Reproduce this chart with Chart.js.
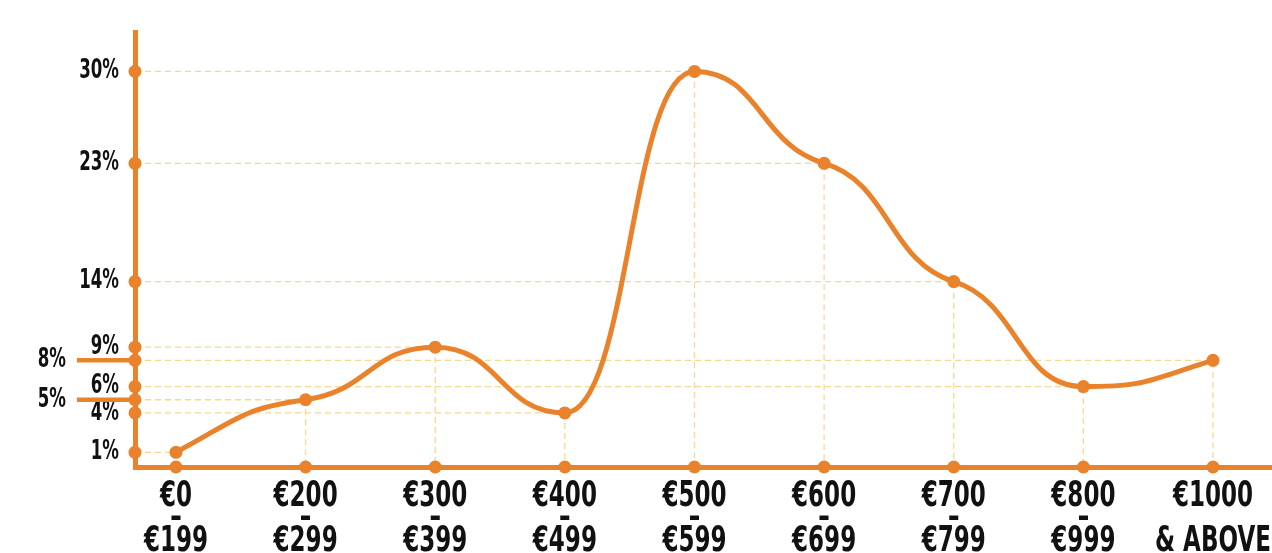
<!DOCTYPE html>
<html>
<head>
<meta charset="utf-8">
<script src="https://cdn.jsdelivr.net/npm/chart.js@4.4.0/dist/chart.umd.min.js"></script>
<style>
    html, body { margin: 0; padding: 0; background: #ffffff; }
</style>
</head>
<body>
<canvas id="graficoPrecios" width="1272" height="553"></canvas>
<script>
// Datos del gráfico
const categorias = [
    ['€0', '–', '€199'],
    ['€200', '–', '€299'],
    ['€300', '–', '€399'],
    ['€400', '–', '€499'],
    ['€500', '–', '€599'],
    ['€600', '–', '€699'],
    ['€700', '–', '€799'],
    ['€800', '–', '€999'],
    ['€1000', '', '& ABOVE']
];
const porcentajes = [1, 5, 9, 4, 30, 23, 14, 6, 8];
const ticksEjeY = [1, 4, 6, 9, 14, 23, 30];
const ticksEjeYExterior = [5, 8];

// Rango de los ejes
const xMin = -0.316;
const xMax = 8.455;
const xIzquierda = -0.764;
const yMin = -0.12;
const yMax = 33;

const naranja = '#e9822a';
const guia = '#f7d890';
const fuente = '"DejaVu Sans", "Liberation Sans", sans-serif';

// Líneas guía punteadas desde cada punto a los ejes
const lineasGuia = [];
porcentajes.forEach((v, i) => {
    lineasGuia.push({ x: xMin, y: v }, { x: i, y: v }, { x: i, y: yMin }, { x: i, y: null });
});

// Marcas de 5% y 8% a la izquierda del eje
const marcasExteriores = [];
const radiosExteriores = [];
ticksEjeYExterior.forEach(v => {
    marcasExteriores.push({ x: xIzquierda, y: v }, { x: xMin, y: v }, { x: xMin, y: null });
    radiosExteriores.push(6.5, 0, 0);
});

// Puntos sobre los ejes
const puntosEjes = [];
ticksEjeY.concat(ticksEjeYExterior).forEach(v => puntosEjes.push({ x: xMin, y: v }));
categorias.forEach((_, i) => puntosEjes.push({ x: i, y: yMin }));

// Texto condensado (la fuente original es muy estrecha)
const textoCondensado = {
    id: 'textoCondensado',
    beforeDraw(chart) {
        const c = chart.ctx;
        if (c._condensado) return;
        const fillOriginal = c.fillText.bind(c);
        c.fillText = function (texto, x, y) {
            c.save();
            c.translate(x, y);
            c.scale(0.64, 1);
            fillOriginal(texto, 0, 0);
            c.restore();
        };
        c._condensado = true;
    }
};

// Curva suave: tangentes planas en los extremos locales, suaves en el resto
const curvaSuave = {
    id: 'curvaSuave',
    beforeDatasetDraw(chart, args) {
        if (args.index !== 0) return;
        const meta = args.meta;
        if (meta.dataset.updateControlPoints) {
            meta.dataset.updateControlPoints(chart.chartArea, 'x');
        }
        const pts = meta.data;
        const n = pts.length;
        const deltas = [];
        for (let i = 0; i < n - 1; i++) {
            deltas.push((pts[i + 1].y - pts[i].y) / (pts[i + 1].x - pts[i].x));
        }
        const m = new Array(n).fill(0);
        for (let i = 1; i < n - 1; i++) {
            if (deltas[i - 1] * deltas[i] > 0) {
                m[i] = 0.35 * (deltas[i - 1] + deltas[i]) / 2;
            }
        }
        m[0] = (3 * deltas[0] - m[1]) / 2;
        m[n - 1] = (3 * deltas[n - 2] - m[n - 2]) / 2;

        pts.forEach((p, i) => {
            const prev = pts[i - 1];
            const next = pts[i + 1];
            const dPrev = prev ? (p.x - prev.x) / 2 : 0;
            const dNext = next ? (next.x - p.x) / 2 : 0;
            p.cp1x = p.x - dPrev;
            p.cp1y = p.y - m[i] * dPrev;
            p.cp2x = p.x + dNext;
            p.cp2y = p.y + m[i] * dNext;
        });
    }
};

const sinPadding = s => {
    s.paddingLeft = 0;
    s.paddingRight = 0;
    s.paddingTop = 0;
    s.paddingBottom = 0;
};

const ctx = document.getElementById('graficoPrecios');

new Chart(ctx, {
    type: 'line',
    plugins: [textoCondensado, curvaSuave],
    data: {
        datasets: [
            {
                label: 'Porcentaje',
                data: porcentajes.map((v, i) => ({ x: i, y: v })),
                borderColor: naranja,
                backgroundColor: naranja,
                borderWidth: 5,
                pointRadius: 6.5,
                pointBorderWidth: 0,
                tension: 0.4,
                clip: false,
                order: 1
            },
            {
                label: 'Puntos ejes',
                data: puntosEjes,
                showLine: false,
                backgroundColor: naranja,
                borderColor: naranja,
                pointRadius: 6.5,
                pointBorderWidth: 0,
                clip: false,
                order: 2
            },
            {
                label: 'Marcas exteriores',
                data: marcasExteriores,
                borderColor: naranja,
                backgroundColor: naranja,
                borderWidth: 4.5,
                pointRadius: radiosExteriores,
                pointBorderWidth: 0,
                spanGaps: false,
                tension: 0,
                clip: false,
                order: 3
            },
            {
                label: 'Guias',
                data: lineasGuia,
                borderColor: guia,
                borderWidth: 1.3,
                borderDash: [6, 4],
                pointRadius: 0,
                spanGaps: false,
                tension: 0,
                order: 4
            }
        ]
    },
    options: {
        responsive: false,
        animation: false,
        devicePixelRatio: 1,
        layout: { autoPadding: false, padding: { top: 32, left: 0, right: 0, bottom: 0 } },
        plugins: {
            legend: { display: false },
            tooltip: { enabled: false }
        },
        scales: {
            x: {
                type: 'linear',
                min: xMin,
                max: xMax,
                afterBuildTicks: s => { s.ticks = categorias.map((_, i) => ({ value: i })); },
                afterFit: s => { s.height = 86; sinPadding(s); },
                ticks: {
                    autoSkip: false,
                    maxRotation: 0,
                    padding: 18,
                    color: '#111111',
                    font: { family: fuente, size: 36, weight: 'bold', lineHeight: 0.63 },
                    callback: (v, i) => categorias[i]
                },
                grid: { display: false, drawTicks: false },
                border: { color: naranja, width: 5 }
            },
            y: {
                position: 'left',
                weight: 0,
                min: yMin,
                max: yMax,
                afterBuildTicks: s => { s.ticks = ticksEjeY.map(v => ({ value: v })); },
                afterFit: s => { s.width = 60; sinPadding(s); },
                ticks: {
                    padding: 16,
                    color: '#111111',
                    font: { family: fuente, size: 26, weight: 'bold' },
                    callback: v => v + '%'
                },
                grid: { display: false, drawTicks: false },
                border: { color: naranja, width: 5 }
            },
            y2: {
                position: 'left',
                weight: 1,
                min: yMin,
                max: yMax,
                afterBuildTicks: s => { s.ticks = ticksEjeYExterior.map(v => ({ value: v })); },
                afterFit: s => { s.width = 75; sinPadding(s); },
                ticks: {
                    padding: 9,
                    color: '#111111',
                    font: { family: fuente, size: 26, weight: 'bold' },
                    callback: v => v + '%'
                },
                grid: { display: false, drawTicks: false },
                border: { display: false }
            }
        }
    }
});
</script>
</body>
</html>
